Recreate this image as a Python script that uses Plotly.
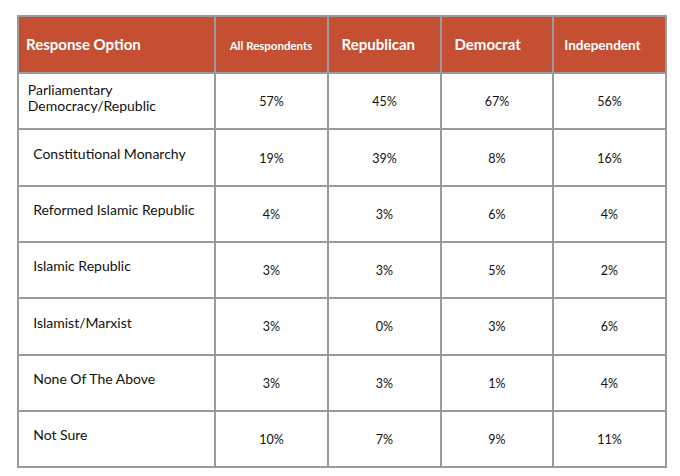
import plotly.graph_objects as go

header = ['Response Option', 'All Respondents', 'Republican', 'Democrat', 'Independent']
options = [
    'Parliamentary<br>Democracy/Republic',
    'Constitutional Monarchy',
    'Reformed Islamic Republic',
    'Islamic Republic',
    'Islamist/Marxist',
    'None Of The Above',
    'Not Sure',
]
all_resp = ['57%', '19%', '4%', '3%', '3%', '3%', '10%']
republican = ['45%', '39%', '3%', '3%', '0%', '3%', '7%']
democrat = ['67%', '8%', '6%', '5%', '3%', '1%', '9%']
independent = ['56%', '16%', '4%', '2%', '6%', '4%', '11%']

HEAD_BG = '#c44f33'
LINE = '#9b9b9b'
BLANK = '&nbsp;<br>'


def sized(txt, size, bold=False):
    if bold:
        txt = f'<b>{txt}</b>'
    return f'<span style="font-size:{size}px">{txt}</span>'


def pushed(txt, size, bold=False, n=1):
    # tables have no vertical align, so blank lines go first
    return BLANK * n + sized(txt, size, bold)


# first column uses a tiny base font, so each blank line is a small step
label_cells = []
for o in options:
    if '<br>' in o:
        parts = [sized('&#8201;' + p, 14) for p in o.split('<br>')]
        label_cells.append(BLANK + ('<br>' + BLANK).join(parts))
    else:
        label_cells.append(pushed('&nbsp;&nbsp;' + o, 14, n=2))
num_cols = [[pushed(v, 12.5) for v in col] for col in [all_resp, republican, democrat, independent]]

head_sizes = [15, 11.5, 15, 15, 13.5]
head_pre = ['', '', '&nbsp;&#8201;', '&nbsp;&#8201;', '&nbsp;']
head_cells = [pushed(p + h, s, bold=True) for h, s, p in zip(header, head_sizes, head_pre)]

fig = go.Figure(go.Table(
    columnwidth=[197, 113, 113, 112, 113],
    header=dict(
        values=head_cells,
        fill_color=HEAD_BG,
        line=dict(color=LINE, width=2),
        align=['left', 'center', 'left', 'left', 'left'],
        font=dict(family='Lato', color='white', size=11.3),
        height=57,
    ),
    cells=dict(
        values=[label_cells] + num_cols,
        fill_color='white',
        line=dict(color=LINE, width=2),
        align=['left', 'center', 'center', 'center', 'center'],
        font=dict(family='Lato', color='#111111', size=[6, 11, 11, 11, 11]),
        height=56.3,
    ),
))

fig.update_layout(
    width=664, height=460,
    margin=dict(l=10, r=6, t=8, b=0),
    paper_bgcolor='white',
)

fig.write_html('out.html')
